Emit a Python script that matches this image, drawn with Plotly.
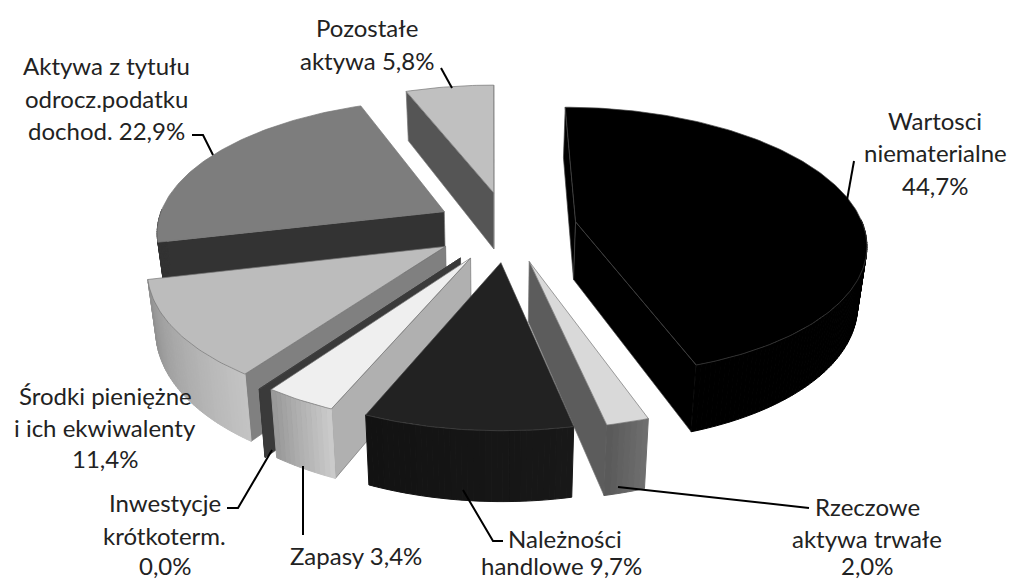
import math
import plotly.graph_objects as go

categories = ["Wartosci niematerialne", "Rzeczowe aktywa trwałe", "Należności handlowe", "Zapasy",
              "Inwestycje krótkoterm.", "Środki pieniężne i ich ekwiwalenty",
              "Aktywa z tytułu odrocz.podatku dochod.", "Pozostałe aktywa"]
values = [44.7, 2.0, 9.7, 3.4, 0.04, 11.4, 22.9, 5.8]
pulls = [69, 75, 75, 75, 80, 74, 73, 78]
top_colors = ["#000000", "#d9d9d9", "#222222", "#efefef", "#3a3a3a", "#bcbcbc", "#7d7d7d", "#c0c0c0"]
wall_colors = ["#000000", "#5c5c5c", "#222222", "#b0b0b0", "#3a3a3a", "#808080", "#333333", "#555555"]
rim_from = [0, 0x70, 0x18, 0xcc, 0x3a, 0xc4, 0x33, 0x55]
rim_to = [0, 0x58, 0x12, 0x98, 0x3a, 0x90, 0x33, 0x55]
edge_colors = ["#444444", "#777777", "#444444", "#777777", "#3a3a3a", "#777777", "#777777", "#777777"]
draw_order = [7, 6, 0, 5, 4, 3, 1, 2]

text_lines = [
    ("Pozostałe", 367, 27), ("aktywa 5,8%", 367, 60),
    ("Aktywa z tytułu", 106, 65), ("odrocz.podatku", 106, 98), ("dochod. 22,9%", 106, 130),
    ("Wartosci", 935, 120), ("niematerialne", 935, 152), ("44,7%", 935, 185),
    ("Środki pieniężne", 105, 395), ("i ich ekwiwalenty", 105, 427), ("11,4%", 105, 458),
    ("Inwestycje", 165, 502), ("krótkoterm.", 164, 535), ("0,0%", 165, 565),
    ("Zapasy 3,4%", 356, 555),
    ("Należności", 565, 538), ("handlowe 9,7%", 561, 565),
    ("Rzeczowe", 867, 506), ("aktywa trwałe", 867, 538), ("2,0%", 867, 565),
]
leaders = [
    [(441, 68), (452, 88)],
    [(192, 135), (203, 135), (213, 155)],
    [(854, 161), (847, 200)],
    [(227, 508), (238, 508), (272, 450)],
    [(303, 466), (303, 535)],
    [(463, 490), (493, 541), (503, 541)],
    [(618, 487), (760, 503), (809, 508)],
]

# projection of the pie
VX, OX, OY = 493, 508, 227   # vanishing x, pie centre on screen
R, TILT, DIST, Z = 288, 0.46, 2000, 58
BOTTOM_SHRINK = 0.975


def project(X, Y, bottom=False):
    s = DIST / (DIST - Y)
    x = VX + (OX - VX + X) * s
    y = OY + Y * TILT * s
    if bottom:
        x = VX + (x - VX) * BOTTOM_SHRINK
        y = y + Z * s
    return x, y


def rim(t, ax, ay):
    return ax + R * math.sin(t), ay - R * math.cos(t)


def hexgrey(v):
    v = int(round(v))
    return f"#{v:02x}{v:02x}{v:02x}"


fig = go.Figure()


def poly(pts, fill, line, w=0.7):
    fig.add_trace(go.Scatter(
        x=[p[0] for p in pts] + [pts[0][0]], y=[p[1] for p in pts] + [pts[0][1]],
        mode="lines", fill="toself", fillcolor=fill,
        line=dict(color=line, width=w), hoverinfo="skip", showlegend=False))


total = sum(values)
starts = []
acc = 0.0
for v in values:
    starts.append(acc)
    acc += v

for i in draw_order:
    t0 = starts[i] / total * 2 * math.pi
    t1 = (starts[i] + values[i]) / total * 2 * math.pi
    mid = (t0 + t1) / 2
    ax, ay = pulls[i] * math.sin(mid), -pulls[i] * math.cos(mid)
    # radial walls that face the viewer
    for t, facing in ((t0, -math.sin(t0)), (t1, math.sin(t1))):
        if facing >= -1e-9:
            rx, ry = rim(t, ax, ay)
            poly([project(ax, ay), project(rx, ry), project(rx, ry, True), project(ax, ay, True)],
                 wall_colors[i], edge_colors[i] if i != 4 else wall_colors[i])
    # outer wall in shaded strips
    n = max(2, int((t1 - t0) * 60))
    ts = [t0 + (t1 - t0) * k / n for k in range(n + 1)]
    for k in range(n):
        a, b = ts[k], ts[k + 1]
        if math.cos((a + b) / 2) > 0.02:
            continue
        f = (k + 0.5) / n
        c = hexgrey(rim_from[i] + (rim_to[i] - rim_from[i]) * f)
        pa, pb = rim(a, ax, ay), rim(b, ax, ay)
        poly([project(*pa), project(*pb), project(*pb, True), project(*pa, True)], c, c, 1.0)
    # top face
    m = max(2, int((t1 - t0) * 60))
    arc = [project(*rim(t0 + (t1 - t0) * k / m, ax, ay)) for k in range(m + 1)]
    poly([project(ax, ay)] + arc, top_colors[i], edge_colors[i])

for seg in leaders:
    fig.add_trace(go.Scatter(x=[p[0] for p in seg], y=[p[1] for p in seg], mode="lines",
                             line=dict(color="#000000", width=2), hoverinfo="skip", showlegend=False))

for txt, x, y in text_lines:
    fig.add_annotation(x=x, y=y, text=txt, showarrow=False, xanchor="center", yanchor="middle",
                       font=dict(family="Lato", size=24, color="#222222"))

fig.update_layout(
    width=1013, height=581, margin=dict(l=0, r=0, t=0, b=0),
    paper_bgcolor="white", plot_bgcolor="white", showlegend=False,
    xaxis=dict(range=[0, 1013], visible=False, fixedrange=True),
    yaxis=dict(range=[581, 0], visible=False, fixedrange=True),
)
fig.write_html("out.html", config={"displayModeBar": False},
               post_script="document.body.style.margin='0';document.body.style.overflow='hidden';")
